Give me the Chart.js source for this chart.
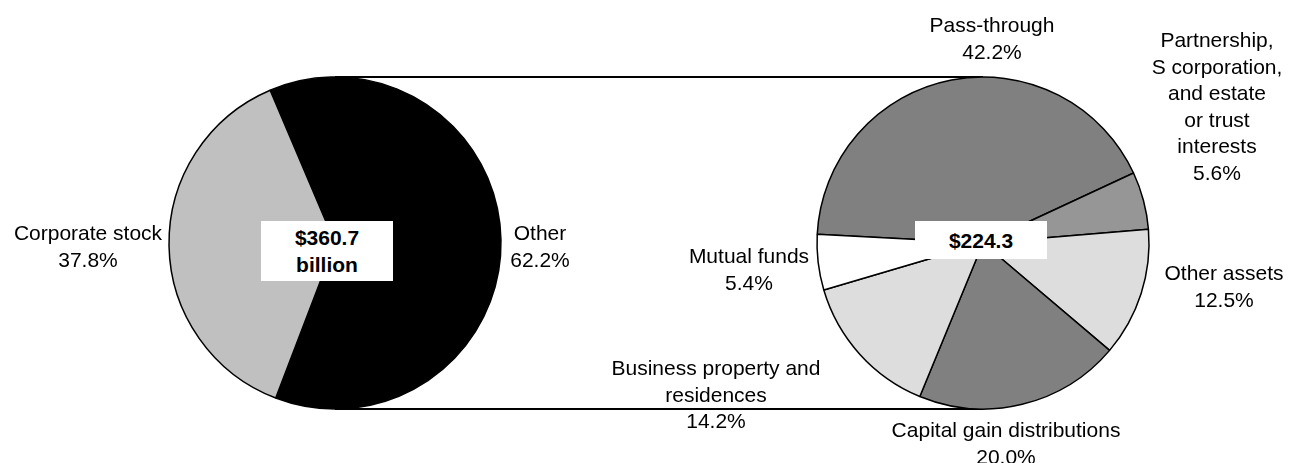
<!DOCTYPE html>
<html>
<head>
<meta charset="utf-8">
<script src="https://cdn.jsdelivr.net/npm/chart.js@4"></script>
<style>
  html, body { margin: 0; padding: 0; background: #fff; }
  #wrap { position: relative; width: 1289px; height: 463px; overflow: hidden; font-family: 'Liberation Sans', Arial, sans-serif; }
  canvas { position: absolute; left: 0; top: 0; }
  .lbl { position: absolute; transform: translateX(-50%); text-align: center; white-space: pre; font-size: 21px; line-height: 26.5px; color: #000; }
  .box { position: absolute; transform: translate(-50%, -50%); background: #fff; text-align: center; white-space: pre; font-size: 21px; line-height: 27px; font-weight: bold; color: #000; }
</style>
</head>
<body>
<div id="wrap">
  <canvas id="leftPie" width="1289" height="463"></canvas>
  <canvas id="rightPie" width="1289" height="463"></canvas>
</div>
<script>
// data
var leftLabels = ['Other', 'Corporate stock'];
var leftValues = [62.2, 37.8];
var leftTotal = '$360.7\nbillion';

var rightLabels = ['Pass-through', 'Partnership,\nS corporation,\nand estate\nor trust\ninterests', 'Other assets',
  'Capital gain distributions', 'Business property and\nresidences', 'Mutual funds'];
var rightValues = [42.2, 5.6, 12.5, 20.0, 14.2, 5.4];
var rightTotal = '$224.3';

// layout: label anchor points (center x, top y)
var leftLabelPos = [[540, 220], [88, 220]];
var rightLabelPos = [[992, 12], [1217, 27], [1224, 260], [1006, 417], [716, 355], [749, 243]];
var leftBoxPos = [327, 251, 132, 60];
var rightBoxPos = [981, 240, 132, 38];

var W = 1289, H = 463;
var baseOptions = function(rotation, cx, cy) {
  return {
    responsive: false,
    animation: false,
    events: [],
    rotation: rotation,
    layout: {
      padding: {
        left: Math.max(2 * cx - W, 0), right: Math.max(W - 2 * cx, 0),
        top: Math.max(2 * cy - H, 0), bottom: Math.max(H - 2 * cy, 0)
      }
    },
    plugins: { legend: { display: false }, tooltip: { enabled: false } }
  };
};

var leftChart = new Chart('leftPie', {
  type: 'pie',
  data: {
    labels: leftLabels,
    datasets: [{
      data: leftValues,
      backgroundColor: ['#000000', '#c0c0c0'],
      borderColor: '#000',
      borderWidth: 1.5,
      radius: 166
    }]
  },
  options: baseOptions(-23, 335, 243)
});

// connector lines between the two pies, drawn under the right pie
var connectors = {
  id: 'connectors',
  beforeDatasetsDraw: function(chart) {
    var a = leftChart.getDatasetMeta(0).data[0];
    var b = chart.getDatasetMeta(0).data[0];
    var ctx = chart.ctx;
    ctx.save();
    ctx.strokeStyle = '#000';
    ctx.lineWidth = 2;
    ctx.beginPath();
    ctx.moveTo(a.x, a.y - a.outerRadius);
    ctx.lineTo(b.x, b.y - b.outerRadius);
    ctx.moveTo(a.x, a.y + a.outerRadius);
    ctx.lineTo(b.x, b.y + b.outerRadius);
    ctx.stroke();
    ctx.restore();
  }
};

var rightChart = new Chart('rightPie', {
  type: 'pie',
  data: {
    labels: rightLabels,
    datasets: [{
      data: rightValues,
      backgroundColor: ['#808080', '#969696', '#dddddd', '#808080', '#dddddd', '#ffffff'],
      borderColor: '#000',
      borderWidth: 1.5,
      radius: 166
    }]
  },
  options: baseOptions(-87, 983, 243),
  plugins: [connectors]
});

// text labels
var wrap = document.getElementById('wrap');
function addLabel(text, pos) {
  var d = document.createElement('div');
  d.className = 'lbl';
  d.textContent = text;
  d.style.left = pos[0] + 'px';
  d.style.top = pos[1] + 'px';
  wrap.appendChild(d);
}
function addBox(text, pos) {
  var d = document.createElement('div');
  d.className = 'box';
  d.textContent = text;
  d.style.left = pos[0] + 'px';
  d.style.top = pos[1] + 'px';
  d.style.width = pos[2] + 'px';
  d.style.height = pos[3] + 'px';
  d.style.paddingTop = ((pos[3] - 27 * text.split('\n').length) / 2) + 'px';
  d.style.boxSizing = 'border-box';
  wrap.appendChild(d);
}
leftLabels.forEach(function(l, i) { addLabel(l + '\n' + leftValues[i].toFixed(1) + '%', leftLabelPos[i]); });
rightLabels.forEach(function(l, i) { addLabel(l + '\n' + rightValues[i].toFixed(1) + '%', rightLabelPos[i]); });
addBox(leftTotal, leftBoxPos);
addBox(rightTotal, rightBoxPos);
</script>
</body>
</html>
